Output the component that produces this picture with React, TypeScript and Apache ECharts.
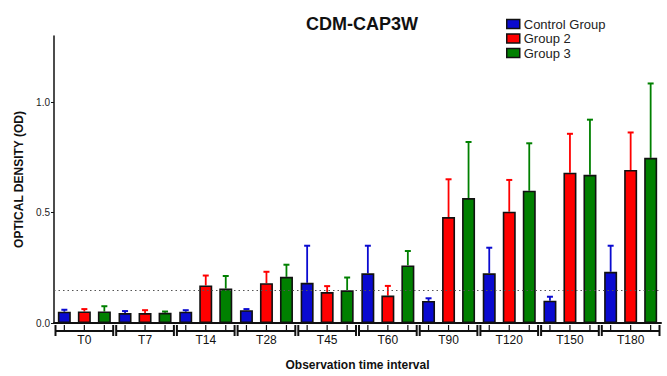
import React, { useEffect, useRef } from "react";
import * as echarts from "echarts";

const categories = ["T0", "T7", "T14", "T28", "T45", "T60", "T90", "T120", "T150", "T180"];
const seriesNames = ["Control Group", "Group 2", "Group 3"];
const controlMean = [0.051, 0.045, 0.051, 0.058, 0.182, 0.225, 0.1, 0.225, 0.101, 0.232];
const controlUpper = [0.06, 0.054, 0.058, 0.063, 0.35, 0.35, 0.112, 0.341, 0.119, 0.35];
const group2Mean = [0.052, 0.045, 0.17, 0.18, 0.14, 0.124, 0.48, 0.504, 0.681, 0.693];
const group2Upper = [0.063, 0.058, 0.215, 0.232, 0.167, 0.168, 0.651, 0.648, 0.857, 0.863];
const group3Mean = [0.052, 0.046, 0.156, 0.209, 0.148, 0.261, 0.566, 0.599, 0.671, 0.748];
const group3Upper = [0.076, 0.052, 0.213, 0.264, 0.206, 0.326, 0.82, 0.814, 0.921, 1.085];
const yTicks = [0, 0.5, 1.0];
const thresholdValue = 0.15;

const colors = ["#0a0ad0", "#ff0000", "#008000"];
const BAR_W = 13;
const BAR_STEP = 20;

export default function App() {
  const ref = useRef<HTMLDivElement>(null);
  useEffect(() => {
    if (!ref.current) return;
    const chart = echarts.init(ref.current, null, { renderer: "svg" });
    const means = [controlMean, group2Mean, group3Mean];
    const uppers = [controlUpper, group2Upper, group3Upper];

    const barSeries = means.map((m, i) => ({
      name: seriesNames[i],
      type: "bar",
      data: m,
      barWidth: BAR_W,
      barGap: "54%",
      z: 3,
      itemStyle: { color: colors[i], borderColor: "#111", borderWidth: 1.6 },
      ...(i === 0
        ? {
            markLine: {
              silent: true,
              symbol: "none",
              label: { show: false },
              lineStyle: { type: [1.5, 3], color: "#555", width: 1 },
              data: [{ yAxis: thresholdValue }],
            },
          }
        : {}),
    }));

    const errSeries = means.map((m, i) => ({
      name: seriesNames[i] + " err",
      type: "custom",
      z: 2,
      data: m.map((v, k) => [k, v, uppers[i][k]]),
      renderItem: (params: any, api: any) => {
        const idx = api.value(0);
        const p1 = api.coord([idx, api.value(1)]);
        const p2 = api.coord([idx, api.value(2)]);
        const x = p1[0] + (i - 1) * BAR_STEP;
        return {
          type: "group",
          children: [
            { type: "line", shape: { x1: x, y1: p1[1], x2: x, y2: p2[1] }, style: { stroke: colors[i], lineWidth: 1.8 } },
            { type: "line", shape: { x1: x - 3, y1: p2[1], x2: x + 3, y2: p2[1] }, style: { stroke: colors[i], lineWidth: 2 } },
          ],
        };
      },
    }));

    const bracketSeries = {
      name: "brackets",
      type: "custom",
      silent: true,
      clip: false,
      data: categories.map((_, k) => [k, 0]),
      renderItem: (params: any, api: any) => {
        const idx = api.value(0);
        const p = api.coord([idx, 0]);
        const w = api.size([1, 0])[0];
        const y = p[1] + 8;
        const x1 = p[0] - w / 2 + 1.5;
        const x2 = p[0] + w / 2 - 1.5;
        const st = { stroke: "#111", lineWidth: 2 };
        const children: any[] = [
          { type: "line", shape: { x1, y1: y, x2, y2: y }, style: st },
          { type: "line", shape: { x1, y1: y - 6, x2: x1, y2: y + 5 }, style: st },
          { type: "line", shape: { x1: x2, y1: y - 6, x2, y2: y + 5 }, style: st },
        ];
        [-1, 0, 1].forEach((o) => {
          const xx = p[0] + o * BAR_STEP;
          children.push({ type: "line", shape: { x1: xx, y1: y - 6, x2: xx, y2: y }, style: { stroke: "#111", lineWidth: 1.2 } });
        });
        return { type: "group", children };
      },
    };

    chart.setOption({
      animation: false,
      textStyle: { fontFamily: "Liberation Sans, Arial, sans-serif" },
      title: {
        text: "CDM-CAP3W",
        left: 357,
        top: 10,
        textAlign: "center",
        textStyle: { fontSize: 18, fontWeight: "bold", color: "#111" },
      },
      legend: {
        data: seriesNames,
        orient: "vertical",
        left: 506,
        top: 17,
        padding: 0,
        itemWidth: 13,
        itemHeight: 9,
        itemGap: 0.5,
        icon: "rect",
        textStyle: { fontSize: 13, color: "#222", lineHeight: 14, padding: [0, 0, 0, -1] },
        itemStyle: { borderColor: "#111", borderWidth: 1.5 },
      },
      grid: { left: 54, right: 6, top: 36, bottom: 49, containLabel: false },
      xAxis: {
        type: "category",
        data: categories,
        name: "Observation time interval",
        nameLocation: "middle",
        nameGap: 36,
        nameTextStyle: { fontSize: 12, fontWeight: "bold", color: "#111" },
        axisLine: { lineStyle: { color: "#111", width: 2 } },
        axisTick: { show: false },
        axisLabel: { fontSize: 12, color: "#111", margin: 11 },
      },
      yAxis: {
        type: "value",
        min: 0,
        max: 1.3,
        interval: 0.5,
        name: "OPTICAL DENSITY (OD)",
        nameLocation: "middle",
        nameGap: 25,
        nameTextStyle: { fontSize: 12, fontWeight: "bold", color: "#111" },
        axisLine: { show: true, lineStyle: { color: "#111", width: 1.5 } },
        axisTick: { show: true, length: 3, lineStyle: { color: "#111" }, customValues: yTicks },
        axisLabel: { fontSize: 10, color: "#222", margin: 4, customValues: yTicks, formatter: (v: number) => v.toFixed(1) },
        splitLine: { show: false },
      },
      series: [...errSeries, ...barSeries, bracketSeries],
    });
    return () => chart.dispose();
  }, []);
  return <div ref={ref} style={{ width: 667, height: 376, position: "absolute", left: 0, top: 0 }} />;
}
